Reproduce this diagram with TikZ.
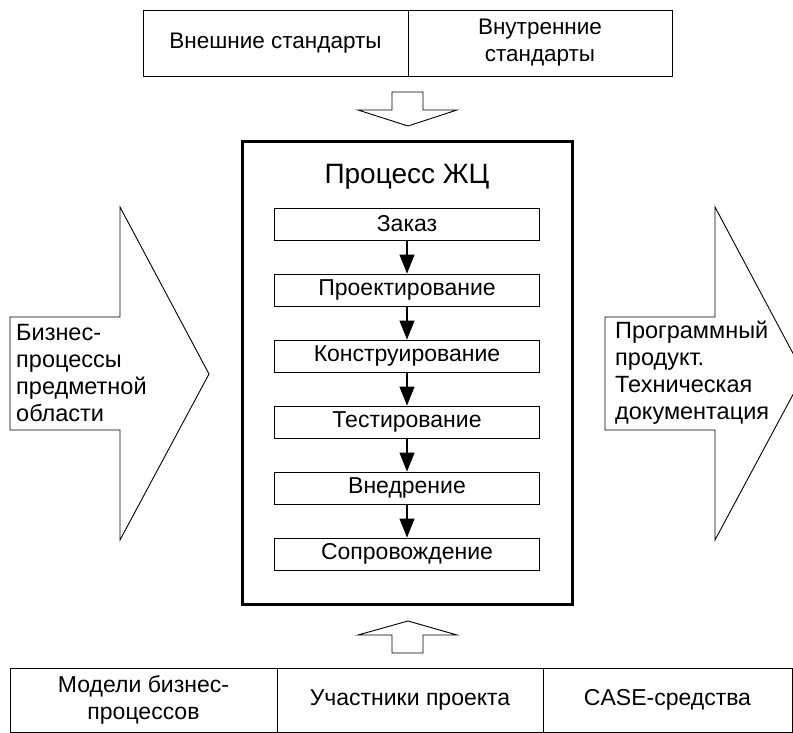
\documentclass[tikz,border=0pt]{standalone}
\usepackage{fontspec}
\setmainfont{Liberation Sans}
\usetikzlibrary{arrows.meta}
\begin{document}
\begin{tikzpicture}[x=1pt,y=-1pt,
  thinline/.style={line width=0.9pt},
  cell/.style={draw, thinline, minimum height=66pt, inner sep=0pt, align=center,
    font=\fontsize{22.5}{27}\selectfont},
  stage/.style={draw, thinline, minimum width=265pt, minimum height=32pt, inner sep=0pt,
    font=\fontsize{23}{26}\selectfont},
  flow/.style={line width=1.2pt, -{Triangle[length=19pt,width=15pt]}},
  blockarrow/.style={draw, thinline, fill=white, line join=miter},
  sidetext/.style={align=left, anchor=west, inner sep=0pt, font=\fontsize{23.5}{27}\selectfont}
]
\useasboundingbox (0,0) rectangle (793,733);
\clip (0,0) rectangle (793,733);

% standards
\node[cell, minimum width=265pt] (ext) at (275.5,43) {Внешние стандарты};
\node[cell, minimum width=264pt] (int) at (540,43) {Внутренние\\стандарты};

% block arrow down into the process
\draw[blockarrow] (392,92) -- (423,92) -- (423,110) -- (457,110) -- (408,126)
  -- (358,110) -- (392,110) -- cycle;

% life cycle process frame
\node[draw, line width=3pt, minimum width=330pt, minimum height=462pt, inner sep=0pt]
  (lc) at (407,373) {};
\node[font=\fontsize{28}{32}\selectfont] (title) at (407,177) {Процесс ЖЦ};

\node[stage] (s1) at (407,224) {Заказ};
\node[stage] (s2) at (407,290) {Проектирование};
\node[stage] (s3) at (407,356) {Конструирование};
\node[stage] (s4) at (407,422) {Тестирование};
\node[stage] (s5) at (407,488) {Внедрение};
\node[stage] (s6) at (407,554) {Сопровождение};

\draw[flow] (s1) -- (s2);
\draw[flow] (s2) -- (s3);
\draw[flow] (s3) -- (s4);
\draw[flow] (s4) -- (s5);
\draw[flow] (s5) -- (s6);

% block arrow up from the resources
\draw[blockarrow] (392,653) -- (423,653) -- (423,635) -- (457,635) -- (408,621)
  -- (358,635) -- (392,635) -- cycle;

% input arrow
\draw[blockarrow] (10,317) -- (120,317) -- (120,207) -- (209,374) -- (120,540)
  -- (120,430) -- (10,430) -- cycle;
\node[sidetext] (inp) at (16,373) {Бизнес-\\процессы\\предметной\\области};

% output arrow
\draw[blockarrow] (605,317) -- (715,317) -- (715,207) -- (804,374) -- (715,540)
  -- (715,430) -- (605,430) -- cycle;
\node[sidetext] (outp) at (615,373) {Программный\\продукт.\\Техническая\\документация};

% resources
\node[cell, minimum width=267pt, minimum height=64pt, font=\fontsize{23}{27}\selectfont]
  (models) at (143.5,700) {Модели бизнес-\\процессов};
\node[cell, minimum width=266pt, minimum height=64pt, font=\fontsize{23}{27}\selectfont]
  (people) at (410,700) {Участники проекта};
\node[cell, minimum width=249pt, minimum height=64pt, font=\fontsize{23}{27}\selectfont]
  (case) at (667.5,700) {CASE-средства};
\end{tikzpicture}
\end{document}
